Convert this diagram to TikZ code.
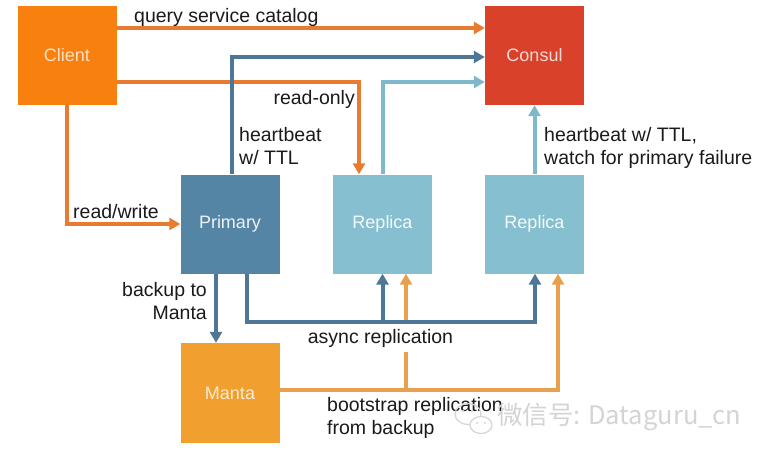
\documentclass[tikz,border=0pt]{standalone}
\usepackage{fontspec}
\setmainfont{Liberation Sans}
\newfontfamily\cjk{Noto Sans CJK SC}
\usetikzlibrary{arrows.meta}
\definecolor{clientfill}{HTML}{F7800F}
\definecolor{consulfill}{HTML}{D9412B}
\definecolor{primfill}{HTML}{5585A5}
\definecolor{repfill}{HTML}{86BFD0}
\definecolor{mantafill}{HTML}{F1A030}
\definecolor{oline}{HTML}{E87B2F}
\definecolor{dline}{HTML}{4E7696}
\definecolor{lline}{HTML}{7DB9CB}
\definecolor{mline}{HTML}{E9A04C}
\definecolor{labtext}{HTML}{1A1A1A}
\definecolor{wmark}{HTML}{D4D4D4}
\begin{document}
\begin{tikzpicture}[x=1pt,y=-1pt,
  box/.style={rectangle, minimum width=99pt, minimum height=99pt, inner sep=0pt,
    font=\fontsize{18}{20}\selectfont},
  conn/.style={line width=4pt, -{Triangle[length=11pt,width=12pt]}},
  plain/.style={line width=4pt},
  lab/.style={text=labtext, inner sep=0pt, font=\fontsize{19.5}{23}\selectfont},
]
\useasboundingbox[fill=white] (0,0) rectangle (768,456);

% boxes
\node[box, fill=clientfill, text=clientfill!25!white] (client) at (67,55.5) {Client};
\node[box, fill=consulfill, text=consulfill!20!white] (consul) at (534.5,55.5) {Consul};
\node[box, fill=primfill, text=primfill!10!white] (primary) at (230,224) {Primary};
\node[box, fill=repfill, text=repfill!10!white] (replica1) at (382.5,224) {Replica};
\node[box, fill=repfill, text=repfill!10!white] (replica2) at (534.5,224) {Replica};
\node[box, fill=mantafill, text=mantafill!20!white, minimum height=100pt] (manta) at (230,393) {Manta};

% client connectors
\draw[conn, oline] (client.east |- 0,28) -- (consul.west |- 0,28);
\draw[conn, oline] (client.east |- 0,82) -| ([xshift=-23.5pt]replica1.north);
\draw[conn, oline] (client.south) |- (primary.west);

% heartbeats
\draw[conn, dline] ([xshift=2pt]primary.north) |- (consul.west |- 0,57);
\draw[conn, lline] ([xshift=0.5pt]replica1.north) |- (consul.west |- 0,82);
\draw[conn, lline] (replica2.north) -- (consul.south);

% bootstrap replication (orange)
\draw[conn, mline] (manta.east |- 0,390) -| ([xshift=23.5pt]replica2.south);
\draw[conn, mline] ([xshift=23.5pt]replica1.south |- 0,390) -- ([xshift=23.5pt]replica1.south);

% backup and async replication (blue)
\draw[conn, dline] ([xshift=-14pt]primary.south) -- ([xshift=-14pt]manta.north);
\draw[conn, dline] ([xshift=17pt]primary.south) |- ([xshift=0.5pt]replica2.south |- 0,322) -- ([xshift=0.5pt]replica2.south);
\draw[conn, dline] (replica1.south |- 0,322) -- (replica1.south);

% labels
\node[lab, anchor=west] (lq) at (134,17) {query service catalog};
\node[lab, anchor=east] (lro) at (355,99) {read-only};
\node[lab, anchor=north west, align=left] (lhb) at (239,127) {heartbeat\\w/ TTL};
\node[lab, anchor=north west, align=left] (lhb2) at (544,127) {heartbeat w/ TTL,\\watch for primary failure};
\node[lab, anchor=west] (lrw) at (73,212) {read/write};
\node[lab, anchor=north east, align=right] (lbk) at (207,282) {backup to\\Manta};
\node[lab, fill=white, inner ysep=5pt, inner xsep=2pt] (las) at (380.5,338) {async replication};
\node[lab, anchor=north west, align=left] (lbs) at (327,397) {bootstrap replication\\from backup};

% watermark
\begin{scope}[wmark, line width=1.2pt]
  \draw (468,414) ellipse [x radius=13pt, y radius=10.5pt];
  \draw[fill=white] (481,425) ellipse [x radius=11pt, y radius=8.5pt];
  \fill (463,411) circle (1.3pt) (472,411) circle (1.3pt);
  \fill (477,423) circle (1.1pt) (485,423) circle (1.1pt);
\end{scope}
\node[text=wmark, inner sep=0pt, anchor=west, font=\cjk\fontsize{25.5}{28}\selectfont] (wm) at (497,417) {微信号: Dataguru\_cn};
\end{tikzpicture}
\end{document}
